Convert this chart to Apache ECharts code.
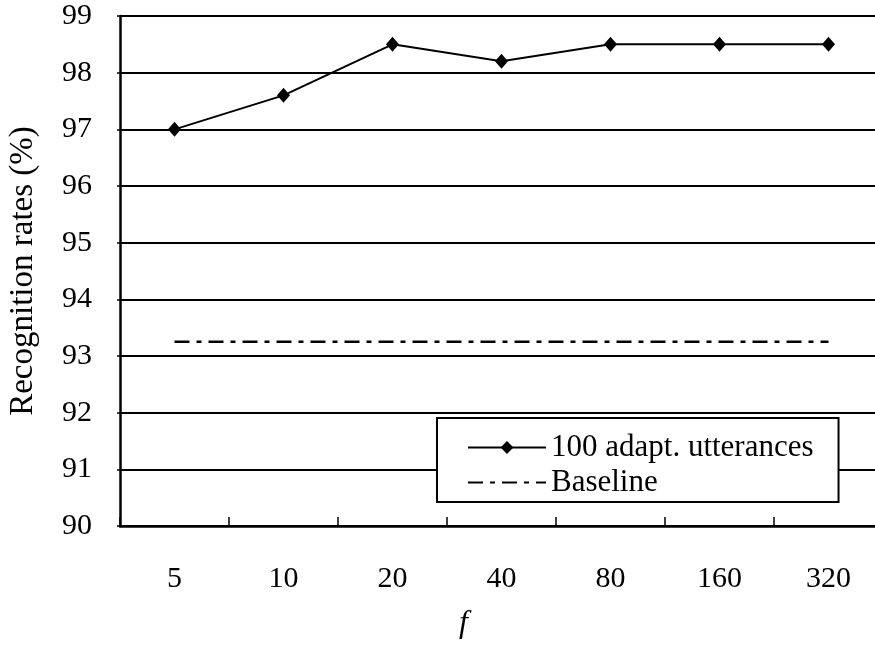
<!DOCTYPE html>
<html>
<head>
<meta charset="utf-8">
<script src="https://cdn.jsdelivr.net/npm/echarts@6/dist/echarts.min.js"></script>
<style>
  html, body { margin: 0; padding: 0; background: #fff; }
  #chart { width: 875px; height: 657px; }
</style>
</head>
<body>
<div id="chart"></div>
<script>
// f values on the horizontal axis
const categories = ['5', '10', '20', '40', '80', '160', '320'];
// recognition rates with 100 adaptation utterances
const adaptRates = [97.0, 97.6, 98.5, 98.2, 98.5, 98.5, 98.5];
// baseline recognition rate (flat)
const baselineRates = [93.25, 93.25, 93.25, 93.25, 93.25, 93.25, 93.25];
const yMin = 90, yMax = 99, yStep = 1;

const FONT = '"Liberation Serif", "Times New Roman", serif';
const chart = echarts.init(document.getElementById('chart'), null, { renderer: 'canvas' });

chart.setOption({
  backgroundColor: '#ffffff',
  animation: false,
  textStyle: { fontFamily: FONT, color: '#000' },
  grid: { left: 120, top: 16, width: 763, height: 510, containLabel: false, outerBoundsMode: 'none' },
  legend: {
    left: 437,
    top: 418,
    orient: 'vertical',
    backgroundColor: '#ffffff',
    borderColor: '#000',
    borderWidth: 2,
    borderRadius: 0,
    padding: [14, 25, 4, 30],
    itemGap: 4,
    itemWidth: 78,
    itemHeight: 16,
    textStyle: { fontFamily: FONT, fontSize: 31, color: '#000' },
    data: [
      { name: '100 adapt. utterances' },
      { name: 'Baseline', itemStyle: { opacity: 0 } }
    ]
  },
  xAxis: {
    type: 'category',
    data: categories,
    boundaryGap: true,
    name: 'f',
    nameLocation: 'middle',
    nameGap: 82,
    nameTextStyle: { fontFamily: FONT, fontSize: 32, fontStyle: 'italic', color: '#000', padding: [0, 76, 0, 0] },
    axisLine: { show: true, lineStyle: { color: '#000', width: 2.5 } },
    axisTick: { show: true, inside: true, length: 9, alignWithLabel: false, lineStyle: { color: '#000', width: 1.5 } },
    axisLabel: { fontFamily: FONT, fontSize: 30, color: '#000', margin: 38 },
    splitLine: { show: false }
  },
  yAxis: {
    type: 'value',
    min: yMin,
    max: yMax,
    interval: yStep,
    name: 'Recognition rates (%)',
    nameLocation: 'middle',
    nameGap: 80,
    nameTextStyle: { fontFamily: FONT, fontSize: 33, color: '#000' },
    axisLine: { show: true, lineStyle: { color: '#000', width: 2.5 } },
    axisTick: { show: true, length: 3, lineStyle: { color: '#000', width: 1.5 } },
    axisLabel: { fontFamily: FONT, fontSize: 30, color: '#000', margin: 28 },
    splitLine: { show: true, lineStyle: { color: '#000', width: 2 } }
  },
  series: [
    {
      name: '100 adapt. utterances',
      type: 'line',
      data: adaptRates,
      symbol: 'diamond',
      symbolSize: [13, 15],
      itemStyle: { color: '#000' },
      lineStyle: { color: '#000', width: 2 },
      z: 5
    },
    {
      name: 'Baseline',
      type: 'line',
      data: baselineRates,
      symbol: 'none',
      itemStyle: { color: '#000' },
      lineStyle: { color: '#000', width: 2.5, type: [15, 7, 5, 7] },
      z: 4
    }
  ]
});
</script>
</body>
</html>
